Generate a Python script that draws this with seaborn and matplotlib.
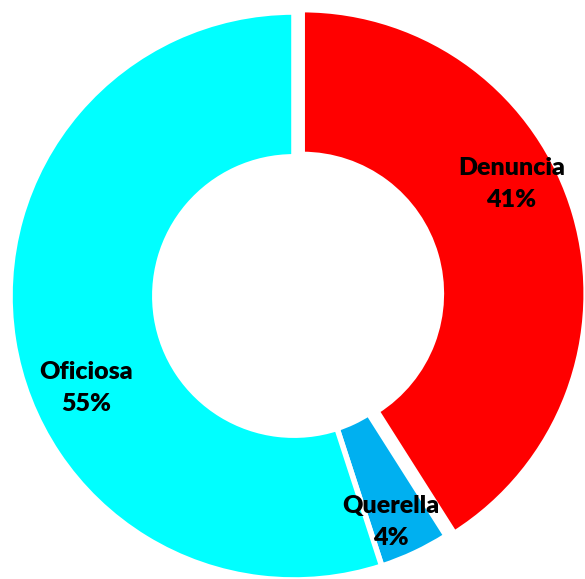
import matplotlib
matplotlib.use("Agg")
import matplotlib.pyplot as plt
import seaborn as sns
import numpy as np

sns.set_theme(style="white")
plt.rcParams['font.family'] = ['Lato', 'DejaVu Sans']

categories = ["Denuncia", "Querella", "Oficiosa"]
values = [41, 4, 55]
colors = ["#FF0000", "#00B0F0", "#00FFFF"]
explode = [0.03, 0, 0]

fig = plt.figure(figsize=(5.85, 5.79), dpi=100)
W, H = 585, 579
cx, cy, R = 294, 296, 284
ax = fig.add_axes([(cx - R) / W, (H - cy - R) / H, 2 * R / W, 2 * R / H])

wedges, _ = ax.pie(values, colors=colors, startangle=90, counterclock=False,
                   explode=explode,
                   wedgeprops=dict(width=0.51, edgecolor="white", linewidth=4))

# label placement (angle offset in degrees, radius)
label_adj = {"Denuncia": (11, 0.86), "Querella": (-2, 0.865), "Oficiosa": (15, 0.80)}
for w, cat, v in zip(wedges, categories, values):
    mid = (w.theta1 + w.theta2) / 2
    d_ang, r = label_adj[cat]
    a = np.deg2rad(mid + d_ang)
    ax.text(r * np.cos(a), r * np.sin(a), f"{cat}\n{v}%", ha="center", va="center",
            fontsize=18, fontweight="heavy", color="black", linespacing=1.55)

ax.set_xlim(-1, 1)
ax.set_ylim(-1, 1)
ax.set_aspect("equal")
ax.axis("off")
fig.savefig("out.png", dpi=100)
